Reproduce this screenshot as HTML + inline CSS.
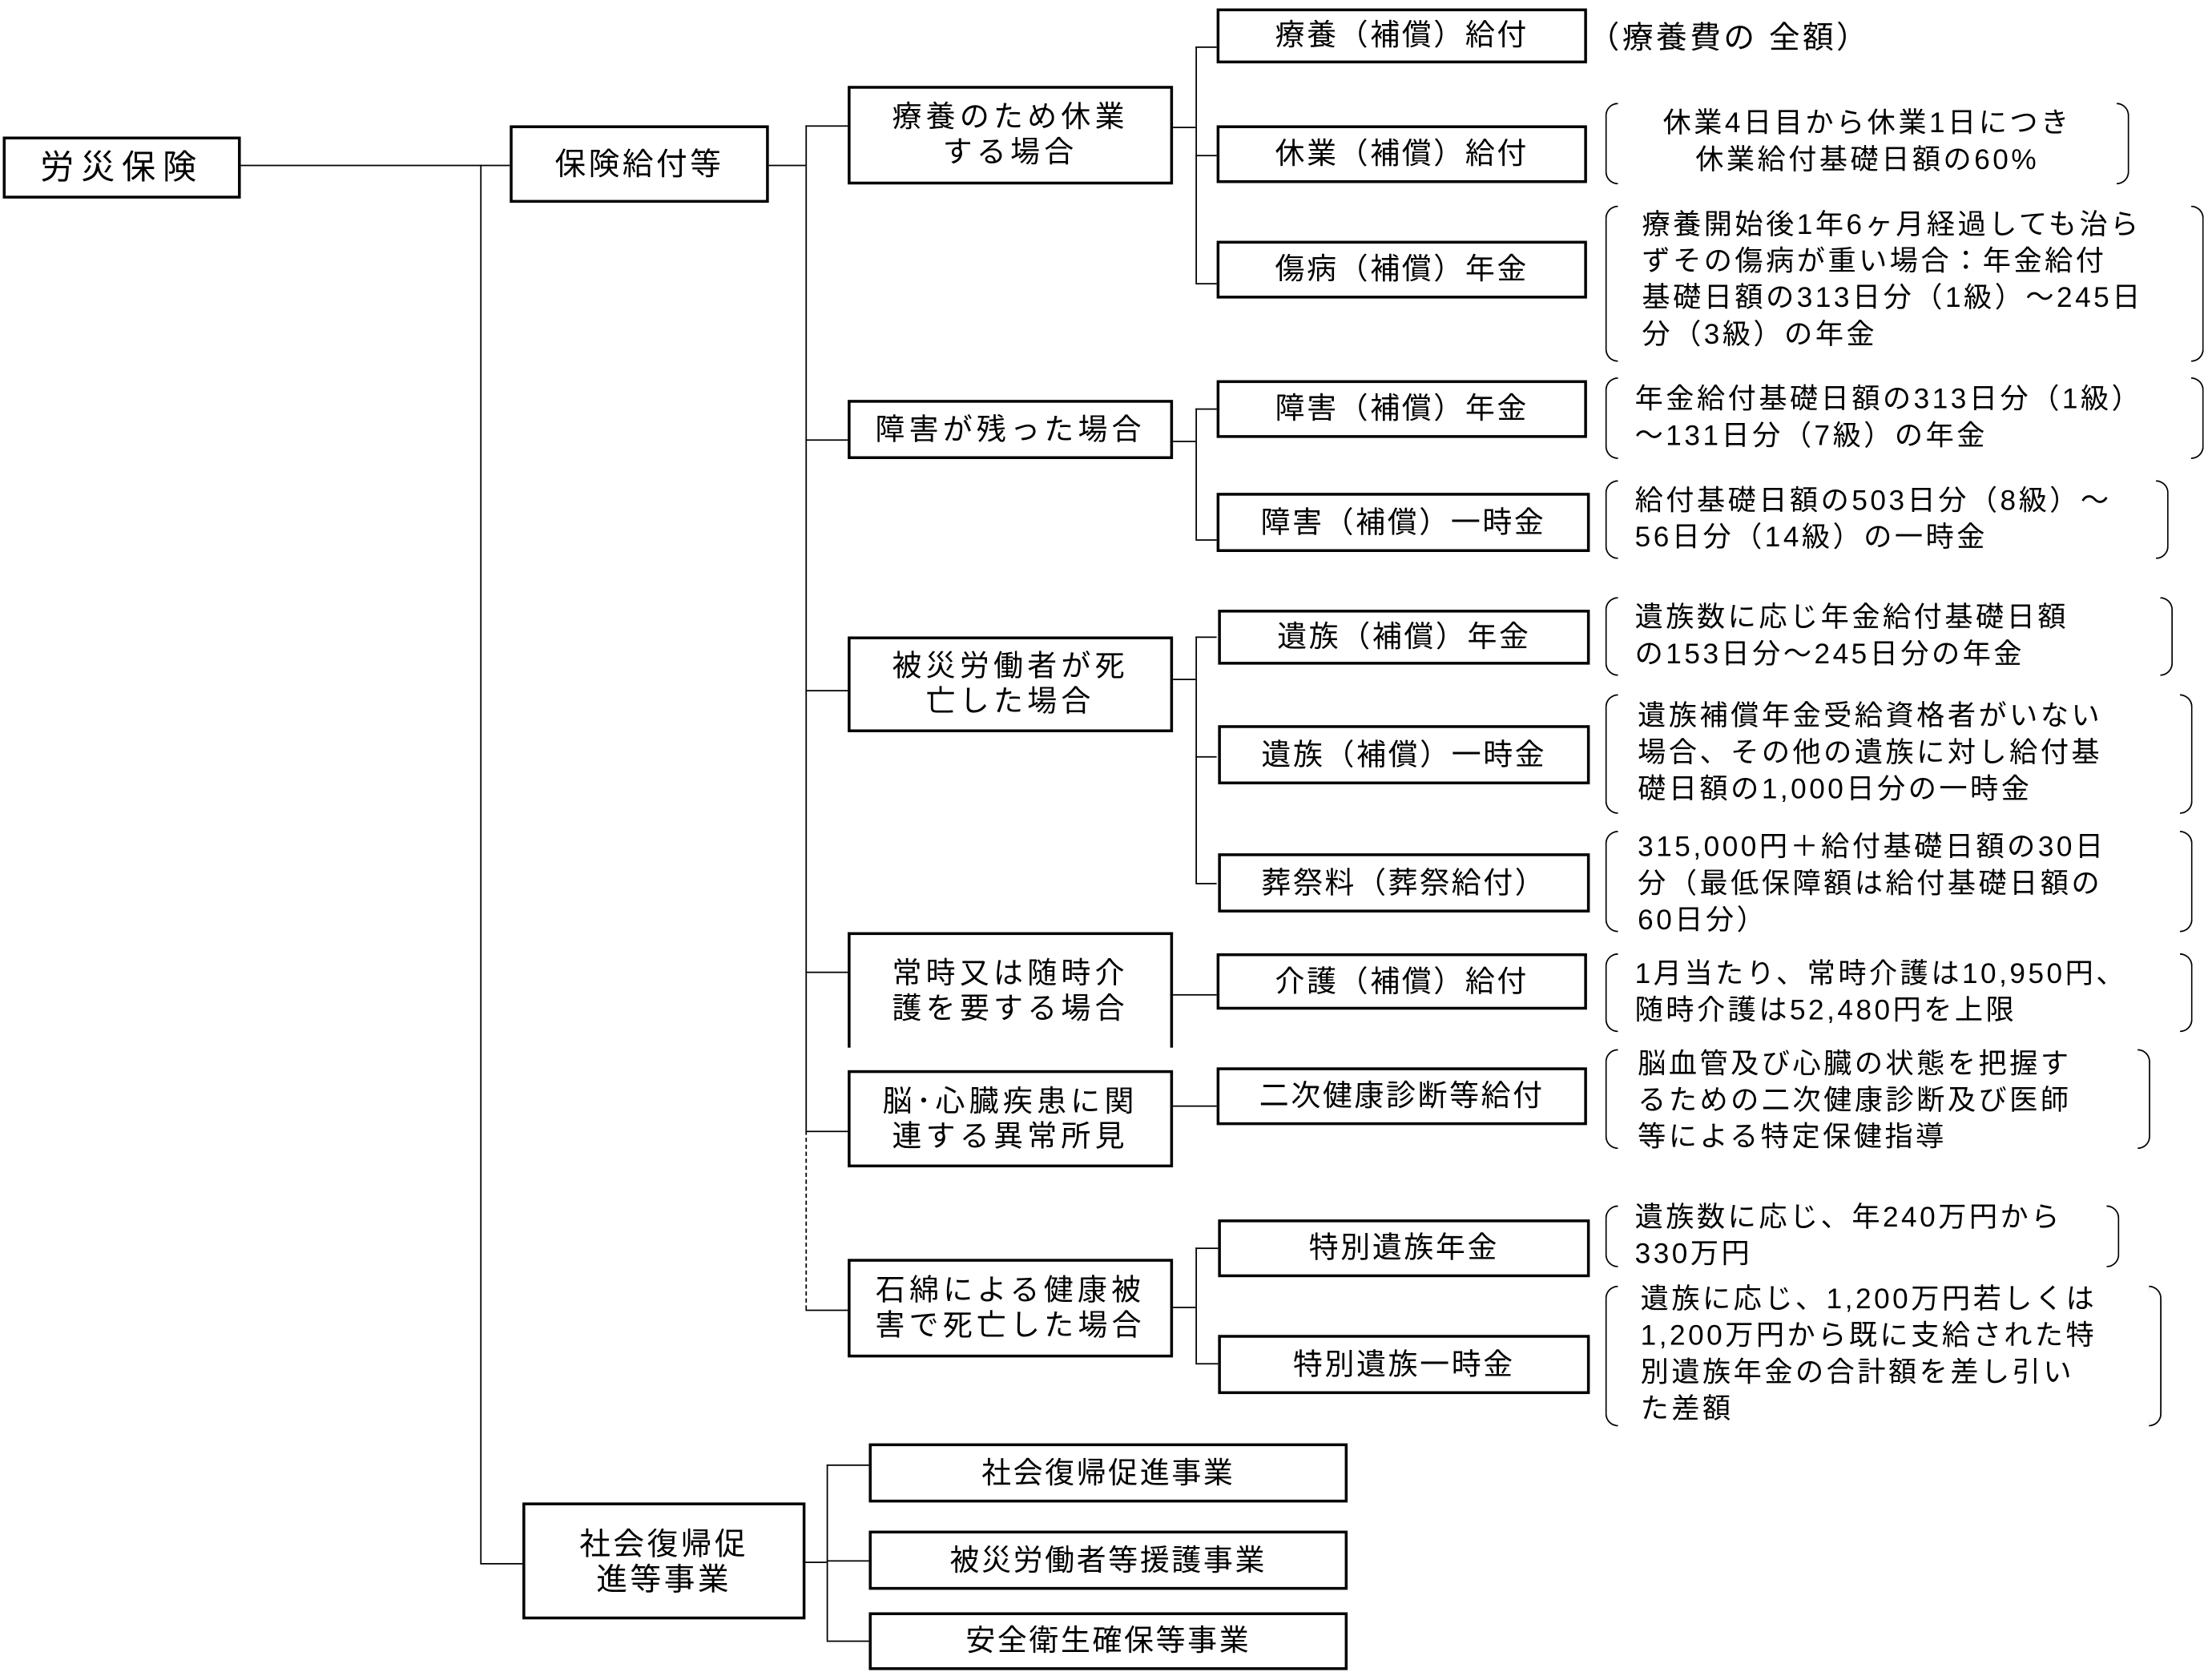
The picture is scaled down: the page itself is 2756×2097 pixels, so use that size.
<!DOCTYPE html>
<html><head><meta charset="utf-8"><style>
html,body{margin:0;padding:0;background:#fff;width:2756px;height:2096px;overflow:hidden}
#c{position:absolute;left:0;top:0;width:1568px;height:1193px;transform:scale(1.75766);transform-origin:0 0;font-family:"Liberation Sans","Noto Sans CJK JP",sans-serif;color:#000}
.b{position:absolute;box-sizing:border-box;border:2px solid #000;display:flex;align-items:center;justify-content:center;text-align:center;font-size:21px;line-height:25px;background:#fff;letter-spacing:1.5px;white-space:nowrap}
.l2{letter-spacing:3px}
.h{position:absolute;height:0;border-top:1.7px solid #000}
.v{position:absolute;width:0;border-left:1.7px solid #000}
.br{position:absolute;box-sizing:border-box}
.br:before,.br:after{content:"";position:absolute;top:0;bottom:0;width:9px;border:1.4px solid #000;box-sizing:border-box}
.br:before{left:0;border-right:none;border-radius:9px 0 0 9px}
.br:after{right:0;border-left:none;border-radius:0 9px 9px 0}
.t{position:absolute;font-size:20px;line-height:26px;white-space:nowrap;letter-spacing:2px}
</style></head><body><div id="c">
<div class="b" style="left:2px;top:97px;width:169px;height:44px;font-size:24px;letter-spacing:5px">労災保険</div>
<div class="h" style="left:171px;top:117px;width:191px"></div>
<div class="v" style="left:341px;top:117px;height:993px"></div>
<div class="h" style="left:341px;top:1110px;width:30px"></div>
<div class="b" style="left:362px;top:89px;width:184px;height:55px;font-size:22px;letter-spacing:2px">保険給付等</div>
<div class="h" style="left:546px;top:117px;width:26px"></div>
<div class="v" style="left:572px;top:89px;height:714px"></div>
<div class="v" style="left:572px;top:803px;height:127px;border-left-style:dashed"></div>
<div class="h" style="left:572px;top:89px;width:30px"></div>
<div class="h" style="left:572px;top:312px;width:30px"></div>
<div class="h" style="left:572px;top:490px;width:30px"></div>
<div class="h" style="left:572px;top:690px;width:30px"></div>
<div class="h" style="left:572px;top:803px;width:30px"></div>
<div class="h" style="left:572px;top:930px;width:30px"></div>
<div class="b l2" style="left:602px;top:61px;width:231px;height:70px">療養のため休業<br>する場合</div>
<div class="b l2" style="left:602px;top:284px;width:231px;height:42px">障害が残った場合</div>
<div class="b l2" style="left:602px;top:452px;width:231px;height:68px">被災労働者が死<br>亡した場合</div>
<div class="b l2" style="left:602px;top:662px;width:231px;height:82px;border-bottom:none">常時又は随時介<br>護を要する場合</div>
<div class="b l2" style="left:602px;top:760px;width:231px;height:69px">脳･心臓疾患に関<br>連する異常所見</div>
<div class="b l2" style="left:602px;top:894px;width:231px;height:70px">石綿による健康被<br>害で死亡した場合</div>
<div class="h" style="left:833px;top:90px;width:16px"></div>
<div class="v" style="left:849px;top:33px;height:168px"></div>
<div class="h" style="left:849px;top:33px;width:15px"></div>
<div class="h" style="left:849px;top:110px;width:15px"></div>
<div class="h" style="left:849px;top:201px;width:15px"></div>
<div class="h" style="left:833px;top:313px;width:16px"></div>
<div class="v" style="left:849px;top:290px;height:93px"></div>
<div class="h" style="left:849px;top:290px;width:15px"></div>
<div class="h" style="left:849px;top:383px;width:15px"></div>
<div class="h" style="left:833px;top:482px;width:16px"></div>
<div class="v" style="left:849px;top:452px;height:175px"></div>
<div class="h" style="left:849px;top:452px;width:15px"></div>
<div class="h" style="left:849px;top:537px;width:15px"></div>
<div class="h" style="left:849px;top:627px;width:15px"></div>
<div class="h" style="left:833px;top:706px;width:31px"></div>
<div class="h" style="left:833px;top:785px;width:31px"></div>
<div class="h" style="left:833px;top:928px;width:16px"></div>
<div class="v" style="left:849px;top:886px;height:82px"></div>
<div class="h" style="left:849px;top:886px;width:16px"></div>
<div class="h" style="left:849px;top:968px;width:16px"></div>
<div class="b" style="left:864px;top:6px;width:263px;height:39px">療養（補償）給付</div>
<div class="b" style="left:864px;top:89px;width:263px;height:41px">休業（補償）給付</div>
<div class="b" style="left:864px;top:171px;width:263px;height:41px">傷病（補償）年金</div>
<div class="b" style="left:864px;top:270px;width:263px;height:41px">障害（補償）年金</div>
<div class="b" style="left:864px;top:350px;width:265px;height:42px">障害（補償）一時金</div>
<div class="b" style="left:865px;top:433px;width:264px;height:39px">遺族（補償）年金</div>
<div class="b" style="left:865px;top:515px;width:264px;height:42px">遺族（補償）一時金</div>
<div class="b" style="left:865px;top:606px;width:264px;height:42px">葬祭料（葬祭給付）</div>
<div class="b" style="left:864px;top:677px;width:263px;height:40px">介護（補償）給付</div>
<div class="b" style="left:864px;top:758px;width:263px;height:41px">二次健康診断等給付</div>
<div class="b" style="left:865px;top:866px;width:264px;height:41px">特別遺族年金</div>
<div class="b" style="left:865px;top:948px;width:264px;height:42px">特別遺族一時金</div>
<div class="t" style="left:1128px;top:14px;font-size:22px">（療養費の 全額）</div>
<div class="br" style="left:1140px;top:73px;width:372px;height:58px"></div>
<div class="t" style="left:1140px;top:75px;width:372px;text-align:center">休業4日目から休業1日につき<br>休業給付基礎日額の60%</div>
<div class="br" style="left:1140px;top:146px;width:425px;height:111px"></div>
<div class="t" style="left:1166px;top:147px">療養開始後1年6ヶ月経過しても治ら<br>ずその傷病が重い場合：年金給付<br>基礎日額の313日分（1級）～245日<br>分（3級）の年金</div>
<div class="br" style="left:1140px;top:268px;width:425px;height:58px"></div>
<div class="t" style="left:1161px;top:271px">年金給付基礎日額の313日分（1級）<br>～131日分（7級）の年金</div>
<div class="br" style="left:1140px;top:341px;width:400px;height:56px"></div>
<div class="t" style="left:1161px;top:343px">給付基礎日額の503日分（8級）～<br>56日分（14級）の一時金</div>
<div class="br" style="left:1140px;top:424px;width:403px;height:56px"></div>
<div class="t" style="left:1161px;top:426px">遺族数に応じ年金給付基礎日額<br>の153日分～245日分の年金</div>
<div class="br" style="left:1140px;top:493px;width:417px;height:85px"></div>
<div class="t" style="left:1163px;top:496px">遺族補償年金受給資格者がいない<br>場合、その他の遺族に対し給付基<br>礎日額の1,000日分の一時金</div>
<div class="br" style="left:1140px;top:590px;width:417px;height:72px"></div>
<div class="t" style="left:1163px;top:589px">315,000円＋給付基礎日額の30日<br>分（最低保障額は給付基礎日額の<br>60日分）</div>
<div class="br" style="left:1140px;top:677px;width:417px;height:56px"></div>
<div class="t" style="left:1161px;top:679px">1月当たり、常時介護は10,950円、<br>随時介護は52,480円を上限</div>
<div class="br" style="left:1140px;top:745px;width:387px;height:71px"></div>
<div class="t" style="left:1163px;top:743px">脳血管及び心臓の状態を把握す<br>るための二次健康診断及び医師<br>等による特定保健指導</div>
<div class="br" style="left:1140px;top:856px;width:365px;height:44px"></div>
<div class="t" style="left:1161px;top:852px">遺族数に応じ、年240万円から<br>330万円</div>
<div class="br" style="left:1140px;top:913px;width:395px;height:100px"></div>
<div class="t" style="left:1165px;top:910px">遺族に応じ、1,200万円若しくは<br>1,200万円から既に支給された特<br>別遺族年金の合計額を差し引い<br>た差額</div>
<div class="b" style="left:371px;top:1067px;width:201px;height:83px;font-size:22px;letter-spacing:2px">社会復帰促<br>進等事業</div>
<div class="h" style="left:572px;top:1109px;width:15px"></div>
<div class="v" style="left:587px;top:1040px;height:125px"></div>
<div class="h" style="left:587px;top:1040px;width:30px"></div>
<div class="h" style="left:587px;top:1108px;width:30px"></div>
<div class="h" style="left:587px;top:1165px;width:30px"></div>
<div class="b" style="left:617px;top:1025px;width:340px;height:42px">社会復帰促進事業</div>
<div class="b" style="left:617px;top:1087px;width:340px;height:42px">被災労働者等援護事業</div>
<div class="b" style="left:617px;top:1145px;width:340px;height:41px">安全衛生確保等事業</div>
</div></body></html>
